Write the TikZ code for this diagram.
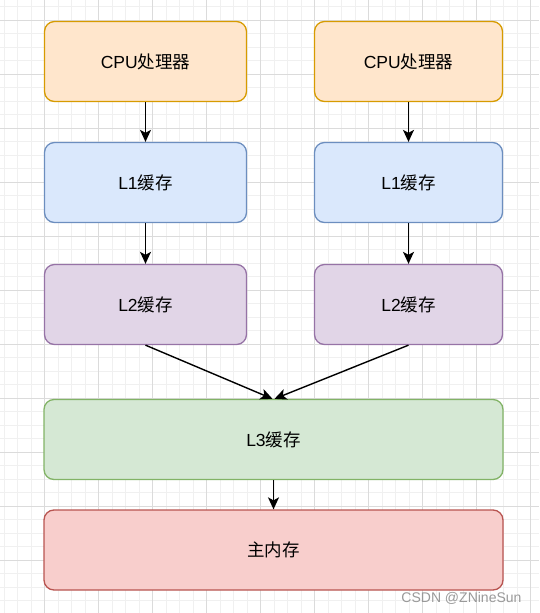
\documentclass[tikz,border=0pt]{standalone}
\usepackage{fontspec}
\setmainfont{Liberation Sans}
\newfontfamily\cjk{Noto Sans CJK SC}
\usetikzlibrary{arrows.meta}

\definecolor{cpufill}{HTML}{FFE6CC}
\definecolor{cpuline}{HTML}{D79B00}
\definecolor{lonefill}{HTML}{DAE8FC}
\definecolor{loneline}{HTML}{6C8EBF}
\definecolor{ltwofill}{HTML}{E1D5E7}
\definecolor{ltwoline}{HTML}{9673A6}
\definecolor{lthreefill}{HTML}{D5E8D4}
\definecolor{lthreeline}{HTML}{82B366}
\definecolor{memfill}{HTML}{F8CECC}
\definecolor{memline}{HTML}{B85450}

\tikzset{
    box/.style={rounded corners=10pt, line width=1.3pt, minimum height=80pt,
        inner sep=0pt, font=\fontsize{17.5}{20}\selectfont},
    link/.style={-{Stealth[length=12pt,width=11pt,inset=3pt]}, line width=1.4pt},
    minorgrid/.style={draw=black!6, line width=0.8pt},
    majorgrid/.style={draw=black!14, line width=0.8pt}
}

\begin{document}
\begin{tikzpicture}[x=1pt,y=-1pt]

    \useasboundingbox (0,0) rectangle (539,613);

    % Grid
    \foreach \i in {0,...,40} {
        \draw[minorgrid] (4.2+13.5*\i,0) -- ++(0,613);
    }
    \foreach \i in {0,...,45} {
        \draw[minorgrid] (0,6.5+13.5*\i) -- ++(539,0);
    }
    \foreach \i in {0,...,10} {
        \draw[majorgrid] (44.7+54*\i-54,0) -- ++(0,613);
    }
    \foreach \i in {0,...,11} {
        \draw[majorgrid] (0,20+54*\i) -- ++(539,0);
    }

    % Processors
    \node[box, fill=cpufill, draw=cpuline, minimum width=202pt] (cpuA) at (145.5,61.5) {CPU{\cjk 处理器}};
    \node[box, fill=cpufill, draw=cpuline, minimum width=188pt] (cpuB) at (408.5,61.5) {CPU{\cjk 处理器}};

    % L1
    \node[box, fill=lonefill, draw=loneline, minimum width=202pt] (loneA) at (145.5,182.5) {L1{\cjk 缓存}};
    \node[box, fill=lonefill, draw=loneline, minimum width=188pt] (loneB) at (408.5,182.5) {L1{\cjk 缓存}};

    % L2
    \node[box, fill=ltwofill, draw=ltwoline, minimum width=202pt] (ltwoA) at (145.5,304.5) {L2{\cjk 缓存}};
    \node[box, fill=ltwofill, draw=ltwoline, minimum width=188pt] (ltwoB) at (408.5,304.5) {L2{\cjk 缓存}};

    % L3 and memory
    \node[box, fill=lthreefill, draw=lthreeline, minimum width=459pt] (lthree) at (273.5,439.5) {L3{\cjk 缓存}};
    \node[box, fill=memfill, draw=memline, minimum width=459pt] (mem) at (273.5,550) {\cjk 主内存};

    % Links
    \draw[link] (cpuA) -- (loneA);
    \draw[link] (cpuB) -- (loneB);
    \draw[link] (loneA) -- (ltwoA);
    \draw[link] (loneB) -- (ltwoB);
    \draw[link] (ltwoA.south) -- ([xshift=-1pt]lthree.north);
    \draw[link] (ltwoB.south) -- ([xshift=1pt]lthree.north);
    \draw[link] (lthree) -- (mem);

    % Watermark
    \node[text=black!40, font=\fontsize{14}{16}\selectfont, anchor=east] (mark) at (525,598) {CSDN @ZNineSun};

\end{tikzpicture}
\end{document}
